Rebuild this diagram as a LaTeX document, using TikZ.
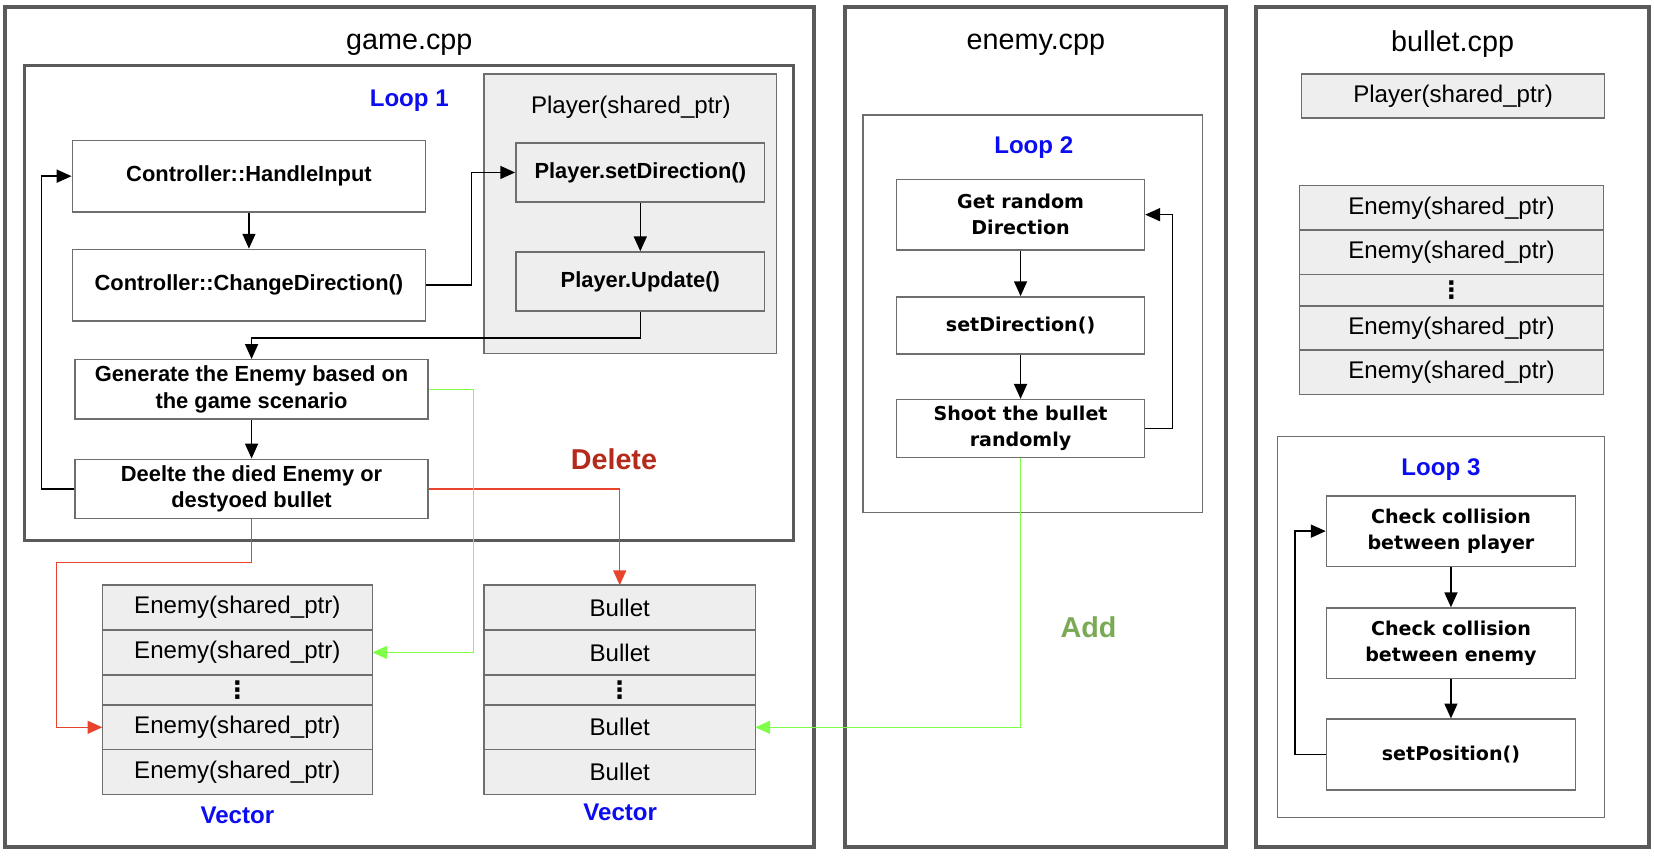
\documentclass[tikz,border=0pt]{standalone}
\usepackage{fontspec}
\setmainfont{Liberation Sans}
\newfontfamily\dvfont{DejaVu Sans}
\usetikzlibrary{arrows.meta}
\usetikzlibrary{positioning}

\definecolor{framegray}{HTML}{5A5A5A}
\definecolor{boxgray}{HTML}{6E6E6E}
\definecolor{cellfill}{HTML}{EEEEEE}
\definecolor{loopblue}{HTML}{0C0CF0}
\definecolor{addline}{HTML}{80FF48}
\definecolor{addtext}{HTML}{7BAA55}
\definecolor{delline}{HTML}{E8432C}
\definecolor{deltext}{HTML}{B52B1B}

\tikzset{
    panel/.style={draw=framegray, line width=2.2pt},
    loopframe/.style={draw=boxgray, line width=0.8pt},
    title/.style={font=\fontsize{15.5}{18}\selectfont},
    looplabel/.style={text=loopblue, font=\fontsize{13}{16}\selectfont\bfseries},
    gamebox/.style={draw=boxgray, line width=0.8pt, fill=white, align=center, inner sep=0pt,
        minimum width=6.7cm, font=\fontsize{11.8}{14.2}\selectfont\bfseries},
    stepbox/.style={draw=boxgray, line width=0.8pt, fill=white, align=center, inner sep=0pt,
        minimum width=4.72cm, font=\dvfont\fontsize{10.3}{13.8}\selectfont\bfseries},
    cell/.style={draw=boxgray, line width=0.8pt, fill=cellfill, inner sep=0pt, outer sep=0pt,
        minimum height=0.85cm, font=\fontsize{13}{16}\selectfont},
    dots/.style={cell, minimum height=0.57cm, font=\dvfont\fontsize{13}{16}\selectfont\bfseries},
    flow/.style={-{Triangle[length=8pt,width=7pt]}, line width=0.8pt},
}

\begin{document}
\begin{tikzpicture}[x=0.02cm, y=-0.02cm]
    \useasboundingbox (0,0) rectangle (1568,812);

    % three source files
    \draw[panel] (5,7) rectangle (772,803);
    \draw[panel] (801,7) rectangle (1162,803);
    \draw[panel] (1191,7) rectangle (1563,803);
    \node[title] (gamecpp) at (388,42) {game.cpp};
    \node[title] (enemycpp) at (982,42) {enemy.cpp};
    \node[title] (bulletcpp) at (1377,42) {bullet.cpp};

    % game.cpp : loop 1
    \draw[draw=framegray, line width=1.7pt] (23,62) rectangle (752,512);
    \node[looplabel] (loop1) at (388,95) {Loop 1};
    \draw[draw=boxgray, line width=0.8pt, fill=cellfill] (459,70) rectangle (736,335);
    \node[font=\fontsize{13}{16}\selectfont] (player) at (598,102) {Player(shared\_ptr)};

    \node[gamebox, minimum height=1.36cm] (hin) at (236,167) {Controller::HandleInput};
    \node[gamebox, minimum height=1.36cm, below=0.68cm of hin] (chd) {Controller::ChangeDirection()};
    \node[gamebox, minimum height=1.12cm, fill=cellfill, minimum width=4.72cm] (psd) at (607,163.5) {Player.setDirection()};
    \node[gamebox, minimum height=1.12cm, fill=cellfill, minimum width=4.72cm, below=0.92cm of psd] (pup) {Player.Update()};
    \node[gamebox, minimum height=1.12cm] (gen) at (238.5,369) {Generate the Enemy based on\\the game scenario};
    \node[gamebox, minimum height=1.12cm, below=0.74cm of gen] (del) {Deelte the died Enemy or\\destyoed bullet};

    \draw[flow] (hin) -- (chd);
    \draw[flow] (chd.east) -- ++(43,0) |- (psd.west);
    \draw[flow] (psd) -- (pup);
    \draw[flow] (pup.south) -- ++(0,25) -| (gen.north);
    \draw[flow] (gen) -- (del);
    \draw[flow] (del.west) -- ++(-31,0) |- (hin.west);

    % game.cpp : vectors
    \node[cell, minimum width=5.12cm] (ev1) at (225,576) {Enemy(shared\_ptr)};
    \node[cell, minimum width=5.12cm, below=0pt of ev1] (ev2) {Enemy(shared\_ptr)};
    \node[dots, minimum width=5.12cm, below=0pt of ev2] (ev3) {⋮};
    \node[cell, minimum width=5.12cm, below=0pt of ev3] (ev4) {Enemy(shared\_ptr)};
    \node[cell, minimum width=5.12cm, below=0pt of ev4] (ev5) {Enemy(shared\_ptr)};
    \node[looplabel] (evec) at (225,773) {Vector};

    \node[cell, minimum width=5.14cm] (bv1) at (587.5,576) {Bullet};
    \node[cell, minimum width=5.14cm, below=0pt of bv1] (bv2) {Bullet};
    \node[dots, minimum width=5.14cm, below=0pt of bv2] (bv3) {⋮};
    \node[cell, minimum width=5.14cm, below=0pt of bv3] (bv4) {Bullet};
    \node[cell, minimum width=5.14cm, below=0pt of bv4] (bv5) {Bullet};
    \node[looplabel] (bvec) at (588,770) {Vector};

    \node[text=deltext, font=\fontsize{15.5}{18}\selectfont\bfseries] (deltxt) at (582,435) {Delete};
    \draw[flow, draw=delline] (del.east) -| (bv1.north);
    \draw[flow, draw=delline] (del.south) -- ++(0,41) -- ++(-185,0) |- (ev4.west);
    \draw[flow, draw=addline] (gen.east) -- ++(42,0) |- (ev2.east);

    % enemy.cpp : loop 2
    \draw[loopframe] (818,109) rectangle (1140,486);
    \node[looplabel] (loop2) at (980,140) {Loop 2};
    \node[stepbox, minimum width=4.7cm, minimum height=1.34cm] (grd) at (967.5,203.5) {Get random\\Direction};
    \node[stepbox, minimum width=4.7cm, minimum height=1.08cm, below=0.86cm of grd] (sdir) {setDirection()};
    \node[stepbox, minimum width=4.7cm, minimum height=1.1cm, below=0.84cm of sdir] (shoot) {Shoot the bullet\\randomly};

    \draw[flow] (grd) -- (sdir);
    \draw[flow] (sdir) -- (shoot);
    \draw[flow] (shoot.east) -- ++(26,0) |- (grd.east);

    \node[text=addtext, font=\fontsize{15.5}{18}\selectfont\bfseries] (addtxt) at (1032,595) {Add};
    \draw[flow, draw=addline] (shoot.south) |- (bv4.east);

    % bullet.cpp
    \node[cell, minimum width=5.74cm, minimum height=0.84cm] (bplayer) at (1377.5,91) {Player(shared\_ptr)};
    \node[cell, minimum width=5.76cm, minimum height=0.84cm] (be1) at (1376,197) {Enemy(shared\_ptr)};
    \node[cell, minimum width=5.76cm, minimum height=0.84cm, below=0pt of be1] (be2) {Enemy(shared\_ptr)};
    \node[dots, minimum width=5.76cm, minimum height=0.6cm, below=0pt of be2] (be3) {⋮};
    \node[cell, minimum width=5.76cm, minimum height=0.84cm, below=0pt of be3] (be4) {Enemy(shared\_ptr)};
    \node[cell, minimum width=5.76cm, minimum height=0.84cm, below=0pt of be4] (be5) {Enemy(shared\_ptr)};

    % bullet.cpp : loop 3
    \draw[loopframe] (1211,414) rectangle (1521,775);
    \node[looplabel] (loop3) at (1366,445) {Loop 3};
    \node[stepbox, minimum height=1.34cm] (cplayer) at (1375.5,503.5) {Check collision\\between player};
    \node[stepbox, minimum height=1.34cm, below=0.76cm of cplayer] (cenemy) {Check collision\\between enemy};
    \node[stepbox, minimum height=1.34cm, below=0.74cm of cenemy] (spos) {setPosition()};

    \draw[flow] (cplayer) -- (cenemy);
    \draw[flow] (cenemy) -- (spos);
    \draw[flow] (spos.west) -- ++(-29,0) |- (cplayer.west);
\end{tikzpicture}
\end{document}
